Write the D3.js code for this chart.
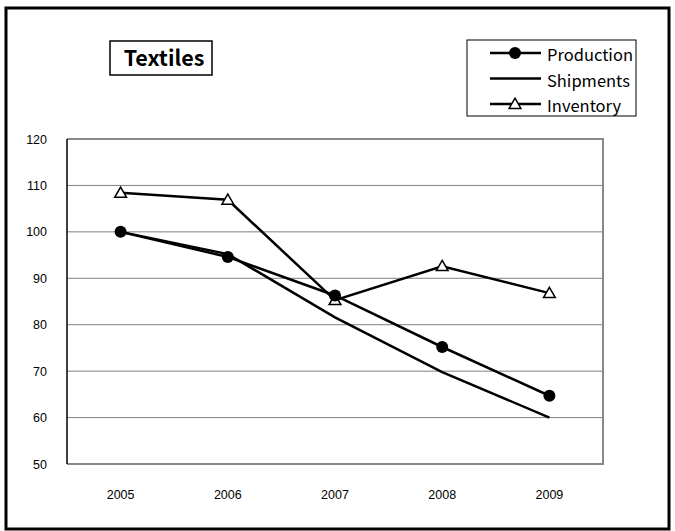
<!DOCTYPE html>
<html lang="en">
<head>
    <meta charset="UTF-8">
    <title>Textiles</title>
    <script src="https://d3js.org/d3.v7.min.js"></script>
    <style>
        html, body {
            margin: 0;
            background: #fff;
        }
        svg text {
            font-family: "Liberation Sans", Arial, sans-serif;
        }
        .jp {
            font-family: "Noto Sans CJK JP", "DejaVu Sans", sans-serif;
        }
    </style>
</head>
<body>
    <div id="vis"></div>
    <script>
        // data
        var years = ["2005", "2006", "2007", "2008", "2009"];
        var production = [100, 94.6, 86.3, 75.2, 64.7];
        var shipments = [100, 95.2, 81.6, 69.8, 60.0];
        var inventory = [108.4, 106.9, 85.3, 92.6, 86.8];
        var yTicks = [50, 60, 70, 80, 90, 100, 110, 120];
        var seriesNames = ["Production", "Shipments", "Inventory"];

        var view_width = 675, view_height = 531;
        var margin = {top: 139, left: 67, right: 72, bottom: 67};
        var width = view_width - margin.left - margin.right;
        var height = view_height - margin.top - margin.bottom;

        var svg = d3.select('#vis')
            .append('svg')
                .attr('width', view_width)
                .attr('height', view_height);

        // outer frame
        svg.append('rect')
            .attr('x', 6).attr('y', 8)
            .attr('width', 663).attr('height', 521)
            .attr('fill', 'none')
            .attr('stroke', '#000')
            .attr('stroke-width', 3);

        var g = svg.append('g')
            .attr('transform', 'translate(' + margin.left + ',' + margin.top + ')');

        var x_scale = d3.scaleBand()
            .domain(years)
            .range([0, width]);

        var y_scale = d3.scaleLinear()
            .domain([50, 120])
            .range([height, 0]);

        // gridlines
        g.selectAll('.grid')
            .data(yTicks.slice(1, -1))
            .enter().append('line')
            .attr('class', 'grid')
            .attr('x1', 0).attr('x2', width)
            .attr('y1', function(d){ return y_scale(d); })
            .attr('y2', function(d){ return y_scale(d); })
            .attr('stroke', '#808080')
            .attr('stroke-width', 1);

        // plot border: gray top/right/bottom, black left axis
        g.append('path')
            .attr('d', 'M0,0H' + width + 'V' + height + 'H0')
            .attr('fill', 'none')
            .attr('stroke', '#888')
            .attr('stroke-width', 2);
        g.append('line')
            .attr('x1', 0).attr('x2', 0)
            .attr('y1', 0).attr('y2', height)
            .attr('stroke', '#000')
            .attr('stroke-width', 1.5);

        var y_axis = d3.axisLeft(y_scale).tickValues(yTicks).tickSize(0).tickPadding(20);
        g.append('g')
            .call(y_axis)
            .call(function(a){ a.select('.domain').remove(); })
            .selectAll('text')
                .attr('font-size', 12.5)
                .attr('fill', '#000');

        var x_axis = d3.axisBottom(x_scale).tickSize(0).tickPadding(26);
        g.append('g')
            .attr('transform', 'translate(0,' + height + ')')
            .call(x_axis)
            .call(function(a){ a.select('.domain').remove(); })
            .selectAll('text')
                .attr('font-size', 12.5)
                .attr('fill', '#000');

        var line = d3.line()
            .x(function(d, i){ return x_scale(years[i]) + x_scale.bandwidth() / 2; })
            .y(function(d){ return y_scale(d); });

        [shipments, inventory, production].forEach(function(s){
            g.append('path')
                .datum(s)
                .attr('d', line)
                .attr('fill', 'none')
                .attr('stroke', '#000')
                .attr('stroke-width', 2.5);
        });

        var tri = d3.symbol().type(d3.symbolTriangle).size(60);

        g.selectAll('.inv')
            .data(inventory)
            .enter().append('path')
            .attr('class', 'inv')
            .attr('d', tri)
            .attr('transform', function(d, i){
                return 'translate(' + (x_scale(years[i]) + x_scale.bandwidth() / 2) + ',' + (y_scale(d) + 1) + ')';
            })
            .attr('fill', '#fff')
            .attr('stroke', '#000')
            .attr('stroke-width', 1.5);

        g.selectAll('.prod')
            .data(production)
            .enter().append('circle')
            .attr('class', 'prod')
            .attr('cx', function(d, i){ return x_scale(years[i]) + x_scale.bandwidth() / 2; })
            .attr('cy', function(d){ return y_scale(d); })
            .attr('r', 6)
            .attr('fill', '#000');

        // title box
        svg.append('rect')
            .attr('x', 110).attr('y', 41)
            .attr('width', 102).attr('height', 34)
            .attr('fill', '#fff')
            .attr('stroke', '#000')
            .attr('stroke-width', 1.5);
        svg.append('text')
            .attr('class', 'jp')
            .attr('x', 164).attr('y', 66)
            .attr('text-anchor', 'middle')
            .attr('font-size', 21.5)
            .attr('font-weight', 'bold')
            .text('Textiles');

        // legend
        var legend = svg.append('g');
        legend.append('rect')
            .attr('x', 467).attr('y', 40)
            .attr('width', 169).attr('height', 76)
            .attr('fill', '#fff')
            .attr('stroke', '#000')
            .attr('stroke-width', 1);

        var items = legend.selectAll('.item')
            .data(seriesNames)
            .enter().append('g')
            .attr('transform', function(d, i){ return 'translate(0,' + (53 + i * 25.5) + ')'; });

        items.append('line')
            .attr('x1', 490).attr('x2', 541)
            .attr('y1', 0).attr('y2', 0)
            .attr('stroke', '#000')
            .attr('stroke-width', 2.5);

        items.append('text')
            .attr('class', 'jp')
            .attr('x', 547).attr('y', 8)
            .attr('font-size', 16.5)
            .text(function(d){ return d; });

        items.filter(function(d){ return d === 'Production'; })
            .append('circle')
            .attr('cx', 515).attr('cy', 0).attr('r', 6).attr('fill', '#000');

        items.filter(function(d){ return d === 'Inventory'; })
            .append('path')
            .attr('d', tri)
            .attr('transform', 'translate(515,1)')
            .attr('fill', '#fff')
            .attr('stroke', '#000')
            .attr('stroke-width', 1.5);
    </script>
</body>
</html>
